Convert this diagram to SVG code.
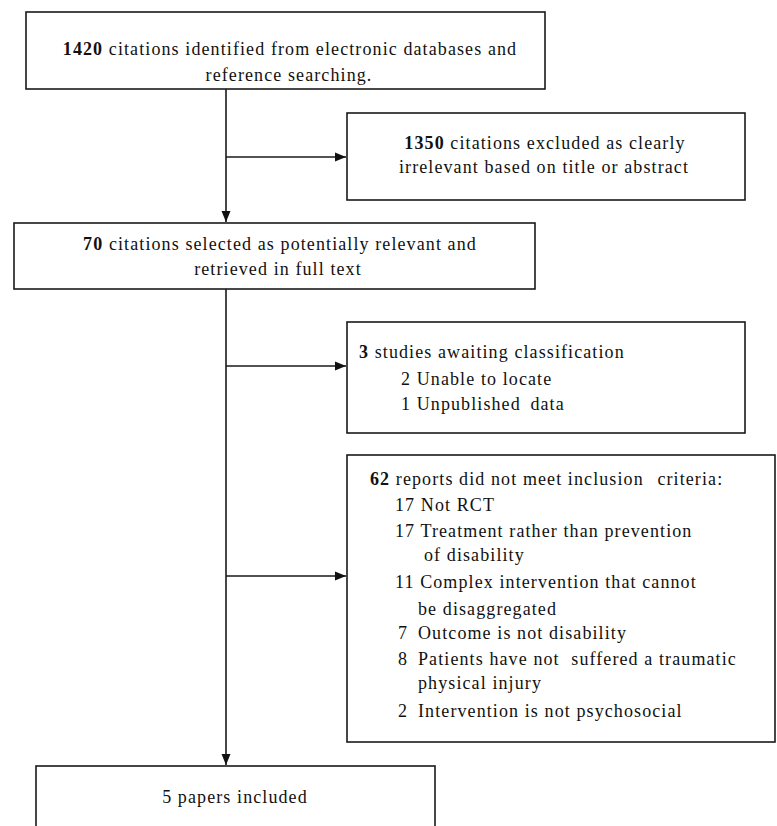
<svg xmlns="http://www.w3.org/2000/svg" width="777" height="826" viewBox="0 0 777 826">
<style>
.box{fill:#fff;stroke:#1a1a1a;stroke-width:1.6}
.t{font-family:'Liberation Serif','Times New Roman',serif;font-size:18px;fill:#111;letter-spacing:1.1px}
.c{text-anchor:middle}
.b{font-weight:bold}
.ln{stroke:#1a1a1a;stroke-width:1.6;fill:none}
</style>
<defs>
<marker id="ah" markerWidth="12" markerHeight="12" refX="11" refY="6" orient="auto" markerUnits="userSpaceOnUse">
<path d="M0,1.5 L11,6 L0,10.5 Z" fill="#111"/>
</marker>
</defs>
<rect width="777" height="826" fill="#fff"/>
<g id="connectors">
<line class="ln" x1="226" y1="89" x2="226" y2="222" marker-end="url(#ah)"/>
<line class="ln" x1="226" y1="157" x2="346" y2="157" marker-end="url(#ah)"/>
<line class="ln" x1="226" y1="289" x2="226" y2="765" marker-end="url(#ah)"/>
<line class="ln" x1="226" y1="366" x2="346" y2="366" marker-end="url(#ah)"/>
<line class="ln" x1="226" y1="576" x2="346" y2="576" marker-end="url(#ah)"/>
</g>
<g id="n1">
<rect class="box" x="26" y="12" width="519" height="77"/>
<text class="t c" x="290" y="55"><tspan class="b">1420</tspan> citations identified from electronic databases and</text>
<text class="t c" x="289" y="81">reference searching.</text>
</g>
<g id="n2">
<rect class="box" x="347" y="113" width="398" height="87"/>
<text class="t c" x="545" y="149"><tspan class="b">1350</tspan> citations excluded as clearly</text>
<text class="t c" x="544" y="173">irrelevant based on title or abstract</text>
</g>
<g id="n3">
<rect class="box" x="14" y="223" width="521" height="66"/>
<text class="t c" x="280" y="250"><tspan class="b">70</tspan> citations selected as potentially relevant and</text>
<text class="t c" x="278" y="275">retrieved in full text</text>
</g>
<g id="n4">
<rect class="box" x="347" y="322" width="398" height="111"/>
<text class="t" x="359" y="358"><tspan class="b">3</tspan> studies awaiting classification</text>
<text class="t" x="401" y="385">2 Unable to locate</text>
<text class="t" x="401" y="410">1 Unpublished <tspan dx="4">data</tspan></text>
</g>
<g id="n5">
<rect class="box" x="347" y="455" width="428" height="287"/>
<text class="t" x="370" y="485"><tspan class="b">62</tspan> reports did not meet inclusion <tspan dx="8">criteria:</tspan></text>
<text class="t" x="395" y="511">17 Not RCT</text>
<text class="t" x="395" y="537">17 Treatment rather than prevention</text>
<text class="t" x="424" y="561">of disability</text>
<text class="t" x="395" y="588">11 Complex intervention that cannot</text>
<text class="t" x="418" y="615">be disaggregated</text>
<text class="t" x="398" y="639">7</text><text class="t" x="418" y="639">Outcome is not disability</text>
<text class="t" x="398" y="665">8</text><text class="t" x="418" y="665">Patients have not <tspan dx="6">suffered a traumatic</tspan></text>
<text class="t" x="418" y="689">physical injury</text>
<text class="t" x="398" y="717">2</text><text class="t" x="418" y="717">Intervention is not psychosocial</text>
</g>
<g id="n6">
<rect class="box" x="36" y="766" width="399" height="80"/>
<text class="t c" x="235" y="803">5 papers included</text>
</g>
</svg>
